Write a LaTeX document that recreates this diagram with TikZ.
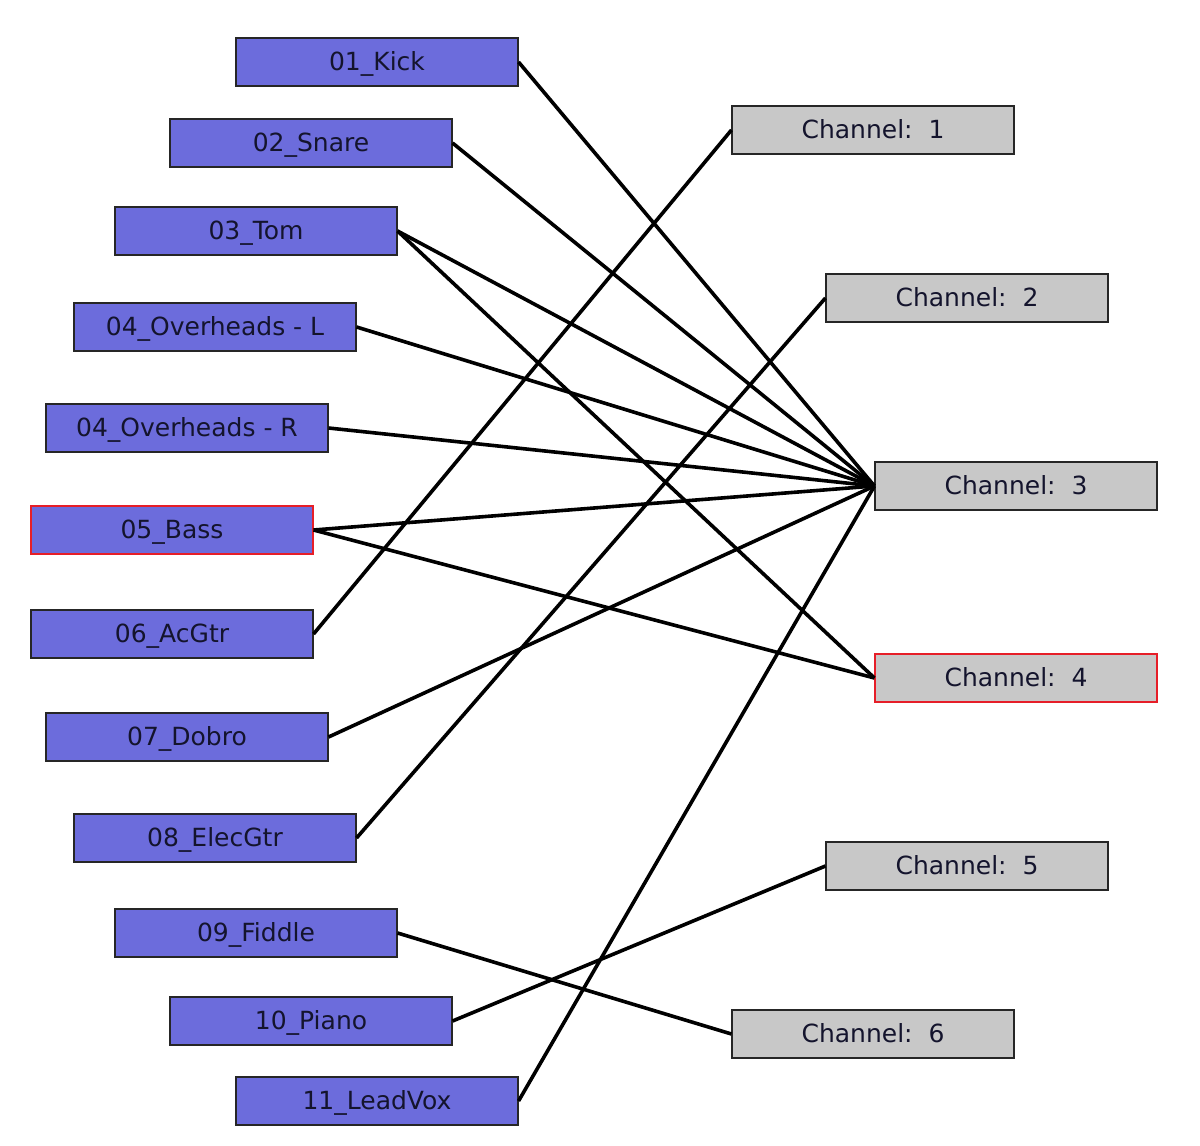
\documentclass[tikz,border=0pt]{standalone}
\usepackage{fontspec}
\setmainfont{DejaVu Sans}
\definecolor{srcblue}{RGB}{108,108,220}
\definecolor{chgray}{RGB}{200,200,200}
\definecolor{txt}{RGB}{20,20,45}
\definecolor{selred}{RGB}{230,30,40}
\tikzset{
  box/.style={draw=black!85, line width=1.1pt, minimum width=282pt, minimum height=48pt, inner sep=0pt, text=txt, font=\fontsize{25}{29}\selectfont, text depth=2pt},
  src/.style={box, fill=srcblue},
  chan/.style={box, fill=chgray},
  sel/.style={draw=selred},
  wire/.style={line width=3.6pt, black}
}
\begin{document}
\begin{tikzpicture}[x=1pt,y=-1pt]
\useasboundingbox (0,0) rectangle (1200,1146);
\fill[white] (0,0) rectangle (1200,1146);
% sources
\node[src] (s1) at (377,62) {01\_Kick};
\node[src] (s2) at (311,143) {02\_Snare};
\node[src] (s3) at (256,231) {03\_Tom};
\node[src] (s4) at (215,327) {04\_Overheads - L};
\node[src] (s5) at (187,428) {04\_Overheads - R};
\node[src,sel] (s6) at (172,530) {05\_Bass};
\node[src] (s7) at (172,634) {06\_AcGtr};
\node[src] (s8) at (187,737) {07\_Dobro};
\node[src] (s9) at (215,838) {08\_ElecGtr};
\node[src] (s10) at (256,933) {09\_Fiddle};
\node[src] (s11) at (311,1021) {10\_Piano};
\node[src] (s12) at (377,1101) {11\_LeadVox};
% channels
\node[chan] (c1) at (873,130) {Channel:~~1};
\node[chan] (c2) at (967,298) {Channel:~~2};
\node[chan] (c3) at (1016,486) {Channel:~~3};
\node[chan,sel] (c4) at (1016,678) {Channel:~~4};
\node[chan] (c5) at (967,866) {Channel:~~5};
\node[chan] (c6) at (873,1034) {Channel:~~6};
% wires
\draw[wire] (s1.east) -- (c3.west);
\draw[wire] (s2.east) -- (c3.west);
\draw[wire] (s3.east) -- (c3.west);
\draw[wire] (s3.east) -- (c4.west);
\draw[wire] (s4.east) -- (c3.west);
\draw[wire] (s5.east) -- (c3.west);
\draw[wire] (s6.east) -- (c3.west);
\draw[wire] (s6.east) -- (c4.west);
\draw[wire] (s7.east) -- (c1.west);
\draw[wire] (s8.east) -- (c3.west);
\draw[wire] (s9.east) -- (c2.west);
\draw[wire] (s10.east) -- (c6.west);
\draw[wire] (s11.east) -- (c5.west);
\draw[wire] (s12.east) -- (c3.west);
\end{tikzpicture}
\end{document}
